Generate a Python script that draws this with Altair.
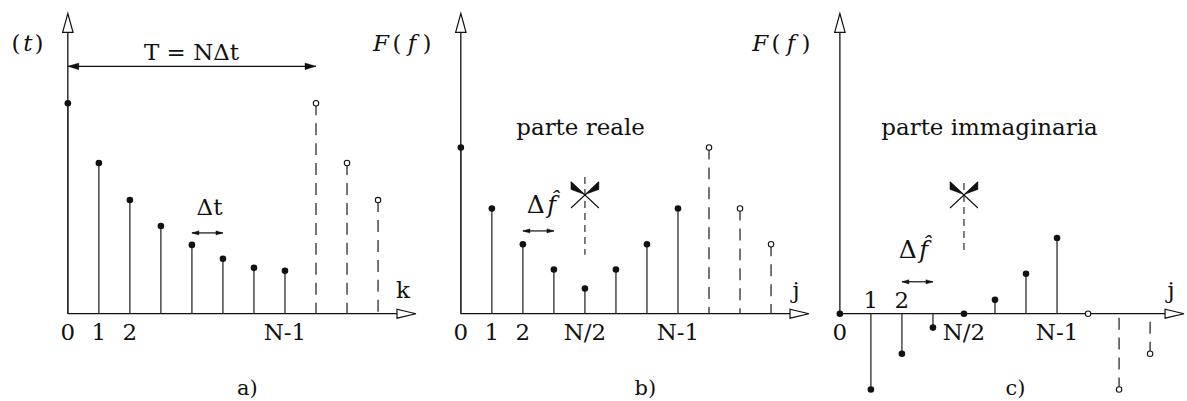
import altair as alt
import pandas as pd

# ---- sampled signal and its DFT over one period (N = 8) --------------------
N = 8
n_periodic = 3                      # samples of the following period, drawn open
f_t = [1.00, 0.716, 0.540, 0.417, 0.327, 0.261, 0.218, 0.204]    # f(t_k)
re_F = [0.79, 0.50, 0.33, 0.21, 0.12, 0.21, 0.33, 0.50]          # Re F(f_j)
im_F = [0.0, -0.36, -0.19, -0.066, 0.0, 0.066, 0.19, 0.36]       # Im F(f_j)

ticks_a_k = [0, 1, 2, 7]
ticks_a_lbl = ["0", "1", "2", "N-1"]
ticks_b_k = [0, 1, 2, 4, 7]
ticks_b_lbl = ["0", "1", "2", "N/2", "N-1"]
ticks_c_low_k = [0, 4, 7]
ticks_c_low_lbl = ["0", "N/2", "N-1"]
ticks_c_high_k = [1, 2]
ticks_c_high_lbl = ["1", "2"]

# ---- drawing constants -----------------------------------------------------
FONT = "DejaVu Serif"
FS = 23          # font size of the labels
INK = "#111111"
STEM = "#2b2b2b"
H = 401          # chart height (px)
BASE = 314       # vertical position of the horizontal axes (px)
STEP = 31.1      # px between consecutive samples
UNIT = 211.0     # px per unit of amplitude

ARROW_UP = "M0,-1L0.55,1L-0.55,1Z"
ARROW_RIGHT = "M1,0L-1,-0.47L-1,0.47Z"
HEAD_R = "M1,0L-1,-0.6L-1,0.6Z"
HEAD_L = "M-1,0L1,-0.6L1,0.6Z"
CROSS = "M-1,-0.93L1,0.93M1,-0.93L-1,0.93"
WEDGES = "M-1,-0.95L-1,-0.4L-0.12,-0.08ZM1,-0.95L1,-0.4L0.12,-0.08Z"


class Panel:
    def __init__(self, left, width, origin):
        self.left, self.width, self.origin = left, width, origin
        self.xs = alt.Scale(domain=[(left - origin) / STEP, (left + width - origin) / STEP],
                            nice=False, zero=False)
        self.ys = alt.Scale(domain=[(BASE - H) / UNIT, BASE / UNIT], nice=False, zero=False)
        self.layers = []

    # page pixel -> data units
    def k(self, px):
        return (px - self.origin) / STEP

    def v(self, py):
        return (BASE - py) / UNIT

    def X(self, f):
        return alt.X(f, type="quantitative", scale=self.xs, axis=None)

    def Y(self, f):
        return alt.Y(f, type="quantitative", scale=self.ys, axis=None)

    def seg(self, k1, v1, k2, v2, dash=None, width=1.3, color=STEM):
        df = pd.DataFrame({"k": [k1], "v": [v1], "k2": [k2], "v2": [v2]})
        kw = dict(color=color, strokeWidth=width)
        if dash:
            kw["strokeDash"] = dash
        self.layers.append(alt.Chart(df).mark_rule(**kw).encode(
            x=self.X("k"), y=self.Y("v"), x2="k2", y2="v2"))

    def sym(self, k, v, shape, size, fill=None, stroke=INK, sw=1.2):
        df = pd.DataFrame({"k": [k], "v": [v]})
        kw = dict(shape=shape, size=size, strokeWidth=sw, opacity=1, stroke=stroke)
        if fill is None:
            kw["filled"] = False
        else:
            kw.update(filled=True, fill=fill)
        self.layers.append(alt.Chart(df).mark_point(**kw).encode(x=self.X("k"), y=self.Y("v")))

    def text(self, s, k, v, size=FS, style="normal", align="center"):
        df = pd.DataFrame({"k": [k], "v": [v], "t": [s]})
        self.layers.append(alt.Chart(df).mark_text(
            font=FONT, fontSize=size, fontStyle=style, align=align,
            baseline="alphabetic", color=INK).encode(
            x=self.X("k"), y=self.Y("v"), text="t:N"))

    def ticks(self, ks, labels, py, size=FS):
        df = pd.DataFrame({"k": ks, "t": labels, "v": self.v(py)})
        self.layers.append(alt.Chart(df).mark_text(
            font=FONT, fontSize=size, align="center", baseline="alphabetic", color=INK).encode(
            x=self.X("k"), y=self.Y("v"), text="t:N"))

    def axes(self, tip_px, name):
        # vertical axis with open arrowhead
        self.seg(0, 0, 0, self.v(32), color=INK, width=1.3)
        self.sym(0, self.v(22.5), ARROW_UP, 19 ** 2, fill="white", sw=1.2)
        # horizontal axis with open arrowhead
        self.seg(0, 0, self.k(tip_px - 19), 0, color=INK, width=1.3)
        self.sym(self.k(tip_px - 9.5), 0, ARROW_RIGHT, 19 ** 2, fill="white", sw=1.2)
        self.text(name, self.k(tip_px - 13), self.v(298))

    def samples(self, values):
        base = pd.DataFrame({"k": list(range(N)), "v": values, "zero": 0.0})
        rep = pd.DataFrame({"k": list(range(N, N + n_periodic)),
                            "v": values[:n_periodic], "zero": 0.0})
        self.layers.append(alt.Chart(base).mark_rule(color=STEM, strokeWidth=1.3).encode(
            x=self.X("k"), y=self.Y("v"), y2="zero"))
        self.layers.append(alt.Chart(rep).mark_rule(
            color=STEM, strokeWidth=1.3, strokeDash=[12, 8]).encode(
            x=self.X("k"), y=self.Y("v"), y2="zero"))
        self.layers.append(alt.Chart(base).mark_circle(size=44, color=INK, opacity=1).encode(
            x=self.X("k"), y=self.Y("v")))
        self.layers.append(alt.Chart(rep).mark_point(
            shape="circle", size=30, filled=True, fill="white", stroke=INK,
            strokeWidth=1.1, opacity=1).encode(x=self.X("k"), y=self.Y("v")))

    def double_arrow(self, k1, k2, py, half=3.5):
        v = self.v(py)
        self.seg(k1, v, k2, v, color=INK, width=1.2)
        d = half / STEP
        self.sym(k1 + d, v, HEAD_L, (2 * half) ** 2, fill=INK, sw=0.4)
        self.sym(k2 - d, v, HEAD_R, (2 * half) ** 2, fill=INK, sw=0.4)

    def fold_mark(self, k, py_center, py_top):
        # dashed folding line at N/2 with its marker
        self.seg(k, self.v(py_top), k, self.v(255), dash=[7, 5], width=1.2)
        self.sym(k, self.v(py_center), CROSS, 28 ** 2, sw=1.1)
        self.sym(k, self.v(py_center), WEDGES, 28 ** 2, fill=INK, sw=0.5)

    def f_label(self, lhs, arg):
        o = self.origin
        self.text(lhs, self.k(o - 80), self.v(51), style="italic")
        self.text("(", self.k(o - 64), self.v(51))
        self.text(arg, self.k(o - 49), self.v(51), style="italic")
        self.text(")", self.k(o - 34), self.v(51))

    def delta_f(self, px, py):
        self.text("Δ", self.k(px), self.v(py), size=FS + 2)
        self.text("f\u0302", self.k(px + 16), self.v(py), size=FS + 1, style="italic")

    def chart(self):
        return alt.layer(*self.layers).properties(width=self.width, height=H)


# ---- a) time samples -------------------------------------------------------
pa = Panel(0, 418, 68)
pa.axes(417, "k")
pa.samples(f_t)
pa.ticks(ticks_a_k, ticks_a_lbl, 340)
pa.double_arrow(0, N, 66, half=5.5)
pa.text("T  =  NΔt", pa.k(192), pa.v(60))
pa.double_arrow(4, 5, 233)
pa.text("Δt", pa.k(210), pa.v(215))
pa.text("(", pa.k(16), pa.v(51))
pa.text("t", pa.k(28), pa.v(51), style="italic")
pa.text(")", pa.k(39), pa.v(51))
pa.text("a)", pa.k(248), pa.v(395), size=21)

# ---- b) real part of the DFT -----------------------------------------------
pb = Panel(418, 394, 462)
pb.axes(811, "j")
pb.samples(re_F)
pb.ticks(ticks_b_k, ticks_b_lbl, 340)
pb.f_label("F", "f")
pb.text("parte  reale", pb.k(582), pb.v(135))
pb.delta_f(537, 213)
pb.double_arrow(2, 3, 231)
pb.fold_mark(N / 2, 195, 177)
pb.text("b)", pb.k(647), pb.v(395), size=21)

# ---- c) imaginary part of the DFT ------------------------------------------
pc = Panel(812, 375, 842)
pc.axes(1187, "j")
pc.samples(im_F)
pc.ticks(ticks_c_low_k, ticks_c_low_lbl, 340)
pc.ticks(ticks_c_high_k, ticks_c_high_lbl, 308)
pc.f_label("F", "f")
pc.text("parte  immaginaria", pc.k(992), pc.v(135))
pc.delta_f(910, 258)
pc.double_arrow(2, 3, 282)
pc.fold_mark(N / 2, 195, 183)
pc.text("c)", pc.k(1018), pc.v(395), size=21)

chart = alt.hconcat(pa.chart(), pb.chart(), pc.chart(), spacing=0, bounds="flush") \
    .resolve_scale(x="independent", y="independent") \
    .properties(padding=0, background="white") \
    .configure_view(stroke=None)

chart.save("out.html", embed_options={"renderer": "svg", "actions": False})
